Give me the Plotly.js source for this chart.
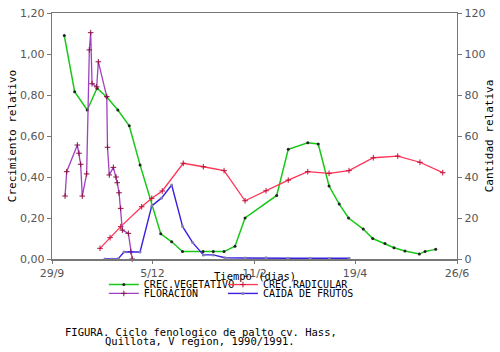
<!DOCTYPE html>
<html><head><meta charset="utf-8">
<script src="https://cdn.plot.ly/plotly-3.0.1.min.js"></script>
<style>html,body{margin:0;padding:0;background:#fff}#chart{width:500px;height:352px}</style>
</head><body><div id="chart"></div>
<script>
// x values: days since 29/9/1990
var tickDays = [0, 67, 135, 202, 270];
var tickLabels = ["29/9", "5/12", "11/2", "19/4", "26/6"];
var leftTickVals = [0, 0.2, 0.4, 0.6, 0.8, 1.0, 1.2];
var leftTickText = ["0,00", "0,20", "0,40", "0,60", "0,80", "1,00", "1,20"];
var rightTickVals = [0, 20, 40, 60, 80, 100, 120];

var vegDays = [8.2, 15.1, 23.5, 30, 36.5, 43.9, 51.5, 58.7, 72.5, 79.8, 87, 100.7, 107.5, 114.7, 122, 128.7, 149.8, 157.5, 170.5, 177.5, 184.7, 191.5, 197.7, 207.5, 213.8, 222, 228, 235.3, 244.9, 248.7, 255.8];
var vegVals = [1.09, 0.816, 0.727, 0.833, 0.79, 0.727, 0.65, 0.459, 0.123, 0.084, 0.036, 0.036, 0.036, 0.036, 0.062, 0.2, 0.31, 0.535, 0.567, 0.561, 0.356, 0.268, 0.2, 0.146, 0.1, 0.076, 0.055, 0.039, 0.024, 0.037, 0.047];

var radDays = [32, 38.7, 45.8, 59.8, 66.5, 73.5, 87.5, 100.9, 114.7, 128.7, 142.7, 157.5, 170.5, 184.7, 198, 214.2, 230.5, 245.3, 260.5];
var radVals = [0.052, 0.104, 0.158, 0.255, 0.296, 0.332, 0.467, 0.45, 0.431, 0.284, 0.333, 0.385, 0.426, 0.418, 0.431, 0.494, 0.502, 0.472, 0.421];

var florDays = [8.7, 9.8, 16.9, 18, 19.1, 20.2, 23.1, 24.9, 25.8, 26.7, 29.8, 30.9, 36.5, 37, 38.2, 40.9, 42.7, 43.5, 44.7, 45.8, 46.9, 50.9, 52.5, 53.5];
var florVals = [30.7, 42.6, 55.6, 51.6, 46.2, 30.7, 41.5, 102, 110.4, 85.5, 84, 96.2, 79.2, 54.5, 41, 44.7, 40, 37.2, 32.3, 24.7, 14.1, 12.5, 3.6, 0];

var caidaDays = [35.3, 40, 44.2, 48, 58.7, 66.5, 73.1, 79.8, 87.1, 93.8, 100.9, 107.5, 115.3, 128.7, 142.7, 157.3, 172, 185, 198];
var caidaVals = [0, 0, 0.2, 3.4, 3.4, 25.9, 29.8, 36.1, 15.8, 8, 2, 2, 0.6, 0.5, 0.6, 0.4, 0.4, 0.3, 0.4];

var mono = "DejaVu Sans Mono, monospace";
var traces = [
  {x: vegDays, y: vegVals, name: "CREC.VEGETATIVO", type: "scatter", mode: "lines+markers",
   line: {color: "#18c818", width: 1.5}, marker: {color: "#222", size: 3}, legend: "legend", cliponaxis: false},
  {x: radDays, y: radVals, name: "CREC.RADICULAR", type: "scatter", mode: "lines+markers",
   line: {color: "#ff3355", width: 1.3}, marker: {color: "#c0103a", size: 4, symbol: "cross-thin", line: {width: 1, color: "#c0103a"}}, legend: "legend2", cliponaxis: false},
  {x: florDays, y: florVals, name: "FLORACION", type: "scatter", mode: "lines+markers", yaxis: "y2",
   line: {color: "#a040c0", width: 1.3}, marker: {color: "#8a1040", size: 4, symbol: "cross-thin", line: {width: 1, color: "#8a1040"}}, legend: "legend3", cliponaxis: false},
  {x: caidaDays, y: caidaVals, name: "CAIDA DE FRUTOS", type: "scatter", mode: "lines+markers", yaxis: "y2",
   line: {color: "#3a20e0", width: 1.4}, marker: {color: "#8080b0", size: 3}, legend: "legend4", cliponaxis: false}
];

function leg(x, y) {
  return {orientation: "h", x: x, xanchor: "left", y: y, yanchor: "top", itemwidth: 30,
          bgcolor: "rgba(0,0,0,0)", font: {family: mono, size: 10, color: "#000"}};
}

var layout = {
  width: 500, height: 352,
  margin: {l: 52, r: 43, t: 13, b: 93},
  paper_bgcolor: "#fff", plot_bgcolor: "#fff",
  showlegend: true,
  hovermode: false,
  font: {family: "DejaVu Sans, sans-serif", size: 11, color: "#555"},
  xaxis: {range: [0, 270], tickvals: tickDays, ticktext: tickLabels, showgrid: false, zeroline: false,
          showline: true, mirror: true, linecolor: "#777", linewidth: 1.5, ticks: "outside", ticklen: 3, tickcolor: "#777",
          tickfont: {size: 11, color: "#555"}},
  yaxis: {range: [0, 1.2], tickvals: leftTickVals, ticktext: leftTickText, showgrid: false, zeroline: false,
          showline: true, linecolor: "#777", linewidth: 1.2, ticks: "outside", ticklen: 4, tickcolor: "#777",
          tickfont: {size: 11, color: "#555"},
          title: {text: "Crecimiento relativo", font: {family: mono, size: 11, color: "#000"}, standoff: 1}},
  yaxis2: {range: [0, 120], tickvals: rightTickVals, overlaying: "y", side: "right", showgrid: false, zeroline: false,
          showline: true, linecolor: "#777", linewidth: 1.2, ticks: "outside", ticklen: 4, tickcolor: "#777",
          tickfont: {size: 11, color: "#555"},
          title: {text: "Cantidad relativa", font: {family: mono, size: 11, color: "#000"}, standoff: 0}},
  legend: leg(0.128, -0.045),
  legend2: leg(0.422, -0.045),
  legend3: leg(0.128, -0.081),
  legend4: leg(0.422, -0.081),
  annotations: [
    {text: "Tiempo (dias)", xref: "paper", yref: "paper", x: 0.5, y: (259 - 276) / 246,
     xanchor: "center", yanchor: "middle", showarrow: false, font: {family: mono, size: 10.5, color: "#000"}},
    {text: "FIGURA. Ciclo fenologico de palto cv. Hass,", xref: "paper", yref: "paper", x: (63 - 52) / 405, y: (259 - 324) / 246,
     xanchor: "left", yanchor: "top", showarrow: false, font: {family: mono, size: 10.5, color: "#000"}},
    {text: "Quillota, V region, 1990/1991.", xref: "paper", yref: "paper", x: (103 - 52) / 405, y: (259 - 333) / 246,
     xanchor: "left", yanchor: "top", showarrow: false, font: {family: mono, size: 10.5, color: "#000"}}
  ]
};

Plotly.newPlot("chart", traces, layout, {displayModeBar: false, staticPlot: true});
</script></body></html>
